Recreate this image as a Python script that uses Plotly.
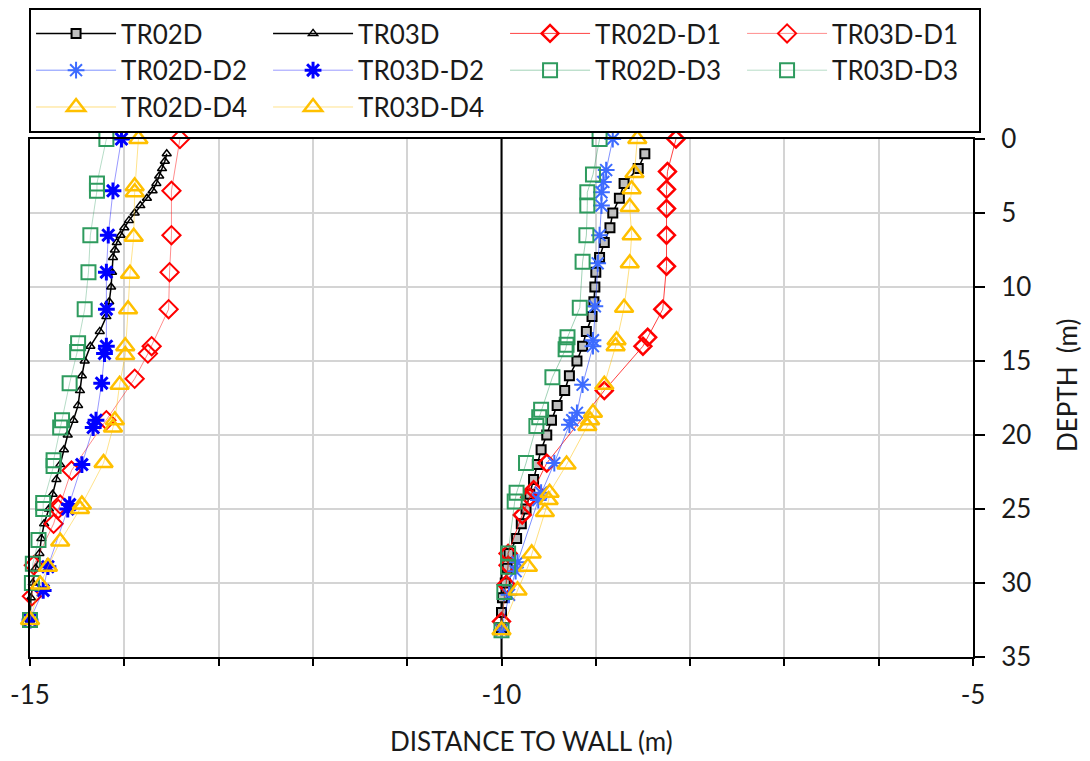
import plotly.graph_objects as go

# ---------------- data (distance to wall in m, depth in m) ----------------
TR02D_depth = [1, 2, 3, 4, 5, 6, 7, 8, 9, 10, 11, 12, 13, 14, 15, 16, 17, 18, 19, 20,
               21, 22, 23, 24, 25, 26, 27, 28, 29, 30, 31, 32, 33]
TR02D_x = [-8.48, -8.55, -8.70, -8.75, -8.82, -8.85, -8.91, -8.96, -9.00, -9.01, -9.02,
           -9.04, -9.10, -9.14, -9.20, -9.28, -9.33, -9.41, -9.47, -9.52, -9.58, -9.62,
           -9.66, -9.70, -9.74, -9.79, -9.84, -9.92, -9.94, -9.96, -9.99, -10.00, -10.00]

TR03D_depth = [1, 1.5, 2, 2.5, 3, 3.5, 4, 4.5, 5, 5.5, 6, 6.5, 7, 7.5, 8, 9, 10, 11, 12,
               13, 14, 15, 16, 17, 18, 19, 20, 21, 22, 23, 24, 25, 26, 27, 28, 29, 30, 31, 32.5]
TR03D_x = [-13.55, -13.57, -13.60, -13.63, -13.66, -13.70, -13.76, -13.83, -13.89, -13.95,
           -14.00, -14.04, -14.08, -14.10, -14.12, -14.13, -14.14, -14.16, -14.19, -14.26,
           -14.36, -14.42, -14.45, -14.47, -14.49, -14.54, -14.60, -14.64, -14.68, -14.72,
           -14.76, -14.80, -14.85, -14.88, -14.90, -14.94, -14.97, -14.99, -15.00]

TR02D_D1_depth = [0, 2.2, 3.4, 4.7, 6.5, 8.6, 11.5, 13.4, 14.0, 17.0, 21.9, 23.7, 24.2,
                  25.4, 28.0, 28.8, 30.1, 32.6]
TR02D_D1_x = [-8.15, -8.24, -8.25, -8.25, -8.25, -8.25, -8.29, -8.45, -8.50, -8.91, -9.52,
              -9.66, -9.70, -9.78, -9.93, -9.93, -9.95, -10.00]

TR03D_D1_depth = [0, 3.5, 6.5, 9, 11.5, 14, 14.5, 16.2, 19, 22.4, 24.7, 25, 26, 28.8, 30.9]
TR03D_D1_x = [-13.41, -13.50, -13.50, -13.52, -13.53, -13.71, -13.75, -13.89, -14.19,
              -14.56, -14.68, -14.70, -14.75, -14.96, -14.98]

TR02D_D2_depth = [0, 2.1, 2.9, 3.6, 4.5, 6.5, 8.4, 11.3, 13.6, 14.0, 16.6, 18.5, 19.0, 19.3,
                  21.9, 23.9, 24.4, 28.6, 29.2, 30.8, 33.2]
TR02D_D2_x = [-8.82, -8.89, -8.92, -8.94, -8.94, -8.96, -8.98, -9.01, -9.03, -9.03, -9.14,
              -9.20, -9.25, -9.28, -9.44, -9.58, -9.61, -9.83, -9.85, -9.92, -10.00]

TR03D_D2_depth = [0, 3.5, 6.5, 9, 11.5, 14, 14.5, 16.5, 19, 19.5, 22, 24.7, 25, 28.9, 30.5, 32.5]
TR03D_D2_x = [-14.03, -14.12, -14.17, -14.19, -14.19, -14.19, -14.21, -14.24, -14.30, -14.33,
              -14.45, -14.58, -14.60, -14.81, -14.86, -15.00]

TR02D_D3_depth = [0, 2.4, 3.6, 4.5, 6.5, 8.3, 11.4, 13.4, 13.9, 14.2, 16.1, 18.3, 18.8, 19.4,
                  21.9, 23.9, 24.5, 28.0, 28.9, 30.6, 33.2]
TR02D_D3_x = [-8.96, -9.03, -9.09, -9.09, -9.10, -9.14, -9.17, -9.30, -9.31, -9.32, -9.46,
              -9.58, -9.60, -9.63, -9.74, -9.84, -9.86, -9.93, -9.93, -9.97, -10.00]

TR03D_D3_depth = [0, 3, 3.5, 6.5, 9, 11.5, 13.8, 14.4, 16.5, 19, 19.5, 21.7, 22.1, 24.6, 25,
                  27.1, 28.7, 30, 32.5]
TR03D_D3_x = [-14.19, -14.29, -14.29, -14.36, -14.38, -14.42, -14.49, -14.50, -14.58, -14.66,
              -14.68, -14.75, -14.75, -14.86, -14.86, -14.91, -14.97, -14.98, -15.00]

TR02D_D4_depth = [0, 2.3, 3.4, 4.6, 6.5, 8.4, 11.4, 13.6, 14.0, 16.6, 18.5, 19.0, 19.4, 22.0,
                  23.9, 24.4, 25.2, 28.0, 28.9, 30.5, 33.2]
TR02D_D4_x = [-8.56, -8.59, -8.62, -8.64, -8.62, -8.64, -8.70, -8.78, -8.79, -8.91, -9.03,
              -9.06, -9.09, -9.31, -9.49, -9.50, -9.54, -9.68, -9.72, -9.83, -10.00]

TR03D_D4_depth = [0, 3.2, 3.6, 6.6, 9.1, 11.5, 14.0, 14.6, 16.6, 19.0, 19.5, 21.9, 24.7, 25.0,
                  27.2, 28.9, 30.1, 32.5]
TR03D_D4_x = [-13.85, -13.89, -13.89, -13.90, -13.94, -13.96, -13.99, -13.99, -14.05, -14.10,
              -14.12, -14.22, -14.45, -14.47, -14.68, -14.81, -14.89, -15.00]

WALLS = [-10]
X_TICKS = [-15, -10, -5]
Y_TICKS = [0, 5, 10, 15, 20, 25, 30, 35]

FONT = "Lato, 'Liberation Sans', Arial, sans-serif"
TXT = "#1a1a1a"

series = [
    ("TR02D", TR02D_x, TR02D_depth,
     dict(symbol="square", size=9, color="#BFBFBF", line=dict(color="black", width=2)),
     dict(color="black", width=1.5)),
    ("TR03D", TR03D_x, TR03D_depth,
     dict(symbol="triangle-up-open", size=8, color="black", line=dict(color="black", width=1.5)),
     dict(color="black", width=1.5)),
    ("TR02D-D1", TR02D_D1_x, TR02D_D1_depth,
     dict(symbol="diamond-open", size=13, color="#FF0000", line=dict(color="#FF0000", width=2.5)),
     dict(color="rgba(255,0,0,0.75)", width=1)),
    ("TR03D-D1", TR03D_D1_x, TR03D_D1_depth,
     dict(symbol="diamond-open", size=14, color="#FF0000", line=dict(color="#FF0000", width=2)),
     dict(color="rgba(255,0,0,0.45)", width=1)),
    ("TR02D-D2", TR02D_D2_x, TR02D_D2_depth,
     dict(symbol="asterisk-open", size=14, color="#3D6BFF", line=dict(color="#3D6BFF", width=2)),
     dict(color="rgba(40,70,255,0.6)", width=1)),
    ("TR03D-D2", TR03D_D2_x, TR03D_D2_depth,
     dict(symbol="asterisk-open", size=14, color="#0000FF", line=dict(color="#0000FF", width=3)),
     dict(color="rgba(0,0,255,0.4)", width=1)),
    ("TR02D-D3", TR02D_D3_x, TR02D_D3_depth,
     dict(symbol="square-open", size=14, color="#2E9B5E", line=dict(color="#2E9B5E", width=2)),
     dict(color="rgba(46,155,94,0.45)", width=1)),
    ("TR03D-D3", TR03D_D3_x, TR03D_D3_depth,
     dict(symbol="square-open", size=14, color="#2E9B5E", line=dict(color="#2E9B5E", width=2)),
     dict(color="rgba(46,155,94,0.35)", width=1)),
    ("TR02D-D4", TR02D_D4_x, TR02D_D4_depth,
     dict(symbol="triangle-up-open", size=16, color="#FFC000", line=dict(color="#FFC000", width=2.5)),
     dict(color="rgba(255,192,0,0.5)", width=1)),
    ("TR03D-D4", TR03D_D4_x, TR03D_D4_depth,
     dict(symbol="triangle-up-open", size=16, color="#FFC000", line=dict(color="#FFC000", width=2.5)),
     dict(color="rgba(255,192,0,0.45)", width=1)),
]

fig = go.Figure()
for name, xs, ds, mk, ln in series:
    fig.add_trace(go.Scatter(x=xs, y=ds, name=name, mode="lines+markers",
                             marker=mk, line=ln, cliponaxis=False))

for w in WALLS:
    fig.add_shape(type="line", xref="x", yref="y", x0=w, x1=w, y0=0, y1=35,
                  line=dict(color="black", width=2), layer="between")

# page body has an 8px margin, so the figure is 8px smaller and the margins compensate
fig.update_layout(
    width=1082, height=753, autosize=False,
    margin=dict(l=22, r=117, t=131, b=104, autoexpand=False),
    paper_bgcolor="white", plot_bgcolor="white",
    font=dict(family=FONT, size=26, color=TXT),
    showlegend=True,
    legend=dict(orientation="h", x=-0.001, xanchor="left", y=1.2529, yanchor="top",
                bordercolor="black", borderwidth=2, bgcolor="white",
                font=dict(family=FONT, size=26, color=TXT),
                itemwidth=80, entrywidth=142, entrywidthmode="pixels",
                traceorder="normal"),
    xaxis=dict(range=[-15, -5], tickvals=X_TICKS, ticktext=[str(v) for v in X_TICKS],
               showline=True, linecolor="black", linewidth=2, mirror=True,
               ticks="outside", ticklen=7, tickwidth=1.5, tickcolor="black",
               showgrid=True, gridcolor="#D4D4D4", gridwidth=2, zeroline=False,
               minor=dict(dtick=1, tick0=-15, ticks="outside", ticklen=7, tickwidth=1.5,
                          tickcolor="black", showgrid=True, gridcolor="#D4D4D4", gridwidth=2),
               tickfont=dict(size=26), ticklabelstandoff=7),
    yaxis=dict(range=[35, 0], tickvals=Y_TICKS, side="right",
               showline=True, linecolor="black", linewidth=2, mirror=True,
               ticks="outside", ticklen=10, tickwidth=1.5, tickcolor="black",
               showgrid=True, gridcolor="#D4D4D4", gridwidth=2, zeroline=False,
               tickfont=dict(size=26), ticklabelstandoff=11),
    annotations=[
        dict(text="DISTANCE TO WALL (m)", xref="paper", yref="paper", x=0.532, y=-0.162,
             xanchor="center", yanchor="middle", showarrow=False,
             font=dict(family=FONT, size=26, color=TXT)),
        dict(text="DEPTH  (m)", xref="paper", yref="paper", x=1.0997, y=0.525,
             xanchor="center", yanchor="middle", showarrow=False, textangle=-90,
             font=dict(family=FONT, size=26, color=TXT)),
    ],
)

fig.write_html("out.html")
